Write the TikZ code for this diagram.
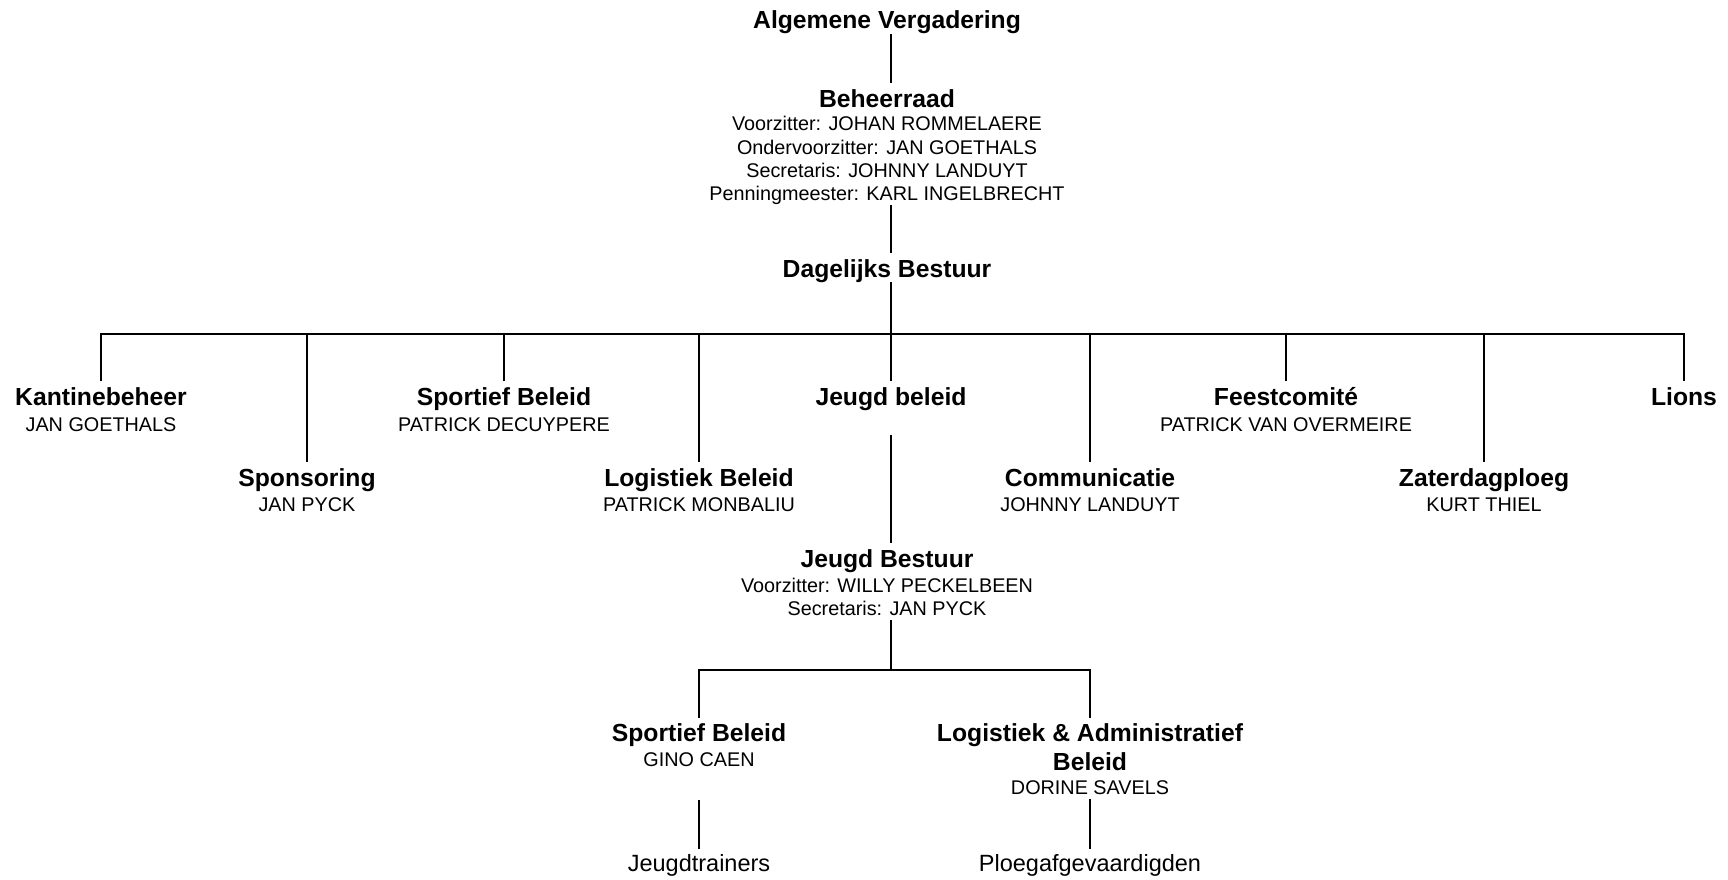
\documentclass[tikz,border=0pt]{standalone}
\usepackage{fontspec}
\setmainfont{Liberation Sans}
\begin{document}
\begin{tikzpicture}[x=1pt,y=-1pt,
  title/.style={font=\fontsize{24.7}{28.3}\selectfont\bfseries, inner sep=0pt, text height=24pt, text depth=5pt, anchor=base},
  sub/.style={font=\fontsize{19.8}{23.3}\selectfont, inner sep=0pt, text height=15pt, text depth=5pt, anchor=base},
  leaf/.style={font=\fontsize{23.5}{28}\selectfont, inner sep=0pt, text height=22pt, text depth=5pt, anchor=base},
  conn/.style={draw=black, line width=2pt}]
\useasboundingbox (0,0) rectangle (1728,880);
% top column
\node[title] (av) at (887,29) {Algemene Vergadering};
\node[title] (br) at (887,107) {Beheerraad};
\node[sub] (br1) at (887,131) {Voorzitter: JOHAN ROMMELAERE};
\node[sub] (br2) at (887,154) {Ondervoorzitter: JAN GOETHALS};
\node[sub] (br3) at (887,177) {Secretaris: JOHNNY LANDUYT};
\node[sub] (br4) at (887,200) {Penningmeester: KARL INGELBRECHT};
\node[title] (db) at (887,277) {Dagelijks Bestuur};
\coordinate (trunk) at (891,334);
% row 1
\node[title] (kb) at (101,405.5) {Kantinebeheer};
\node[sub] (kbn) at (101,431) {JAN GOETHALS};
\node[title] (sb) at (504,405.5) {Sportief Beleid};
\node[sub] (sbn) at (504,431) {PATRICK DECUYPERE};
\node[title] (jbl) at (891,405.5) {Jeugd beleid};
\node[title] (fc) at (1286,405.5) {Feestcomité};
\node[sub] (fcn) at (1286,431) {PATRICK VAN OVERMEIRE};
\node[title] (li) at (1684,405.5) {Lions};
% row 2
\node[title] (sp) at (307,486) {Sponsoring};
\node[sub] (spn) at (307,511) {JAN PYCK};
\node[title] (lb) at (699,486) {Logistiek Beleid};
\node[sub] (lbn) at (699,511) {PATRICK MONBALIU};
\node[title] (co) at (1090,486) {Communicatie};
\node[sub] (con) at (1090,511) {JOHNNY LANDUYT};
\node[title] (zp) at (1484,486) {Zaterdagploeg};
\node[sub] (zpn) at (1484,511) {KURT THIEL};
% youth board
\node[title] (jb) at (887,567) {Jeugd Bestuur};
\node[sub] (jb1) at (887,592) {Voorzitter: WILLY PECKELBEEN};
\node[sub] (jb2) at (887,615) {Secretaris: JAN PYCK};
\coordinate (jbus) at (891,670);
% row 3
\node[title] (ysb) at (699,741.7) {Sportief Beleid};
\node[sub] (ysbn) at (699,766.7) {GINO CAEN};
\node[title] (la) at (1090,741.7) {Logistiek \& Administratief};
\node[title] (la2) at (1090,770) {Beleid};
\node[sub] (lan) at (1090,794) {DORINE SAVELS};
% leaves
\node[leaf] (jt) at (699,871) {Jeugdtrainers};
\node[leaf] (pg) at (1090,871) {Ploegafgevaardigden};
% connectors
\draw[conn] (av.south -| trunk) -- (br.north -| trunk);
\draw[conn] (br4.south -| trunk) -- (db.north -| trunk);
\draw[conn] (db.south -| trunk) -- (jbl.north);
\draw[conn] (kb.north) |- (trunk) -| (li.north);
\draw[conn] (sp.north) -- (sp.north |- trunk);
\draw[conn] (sb.north) -- (sb.north |- trunk);
\draw[conn] (lb.north) -- (lb.north |- trunk);
\draw[conn] (co.north) -- (co.north |- trunk);
\draw[conn] (fc.north) -- (fc.north |- trunk);
\draw[conn] (zp.north) -- (zp.north |- trunk);
\draw[conn, shorten <=24pt] (jbl.south) -- (jb.north -| jbl.south);
\draw[conn] (jb2.south -| jbus) -- (jbus);
\draw[conn] (ysb.north) |- (jbus) -| (la.north);
\draw[conn, shorten <=28pt] (ysbn.south) -- (jt.north);
\draw[conn] (lan.south) -- (pg.north);
\end{tikzpicture}
\end{document}
